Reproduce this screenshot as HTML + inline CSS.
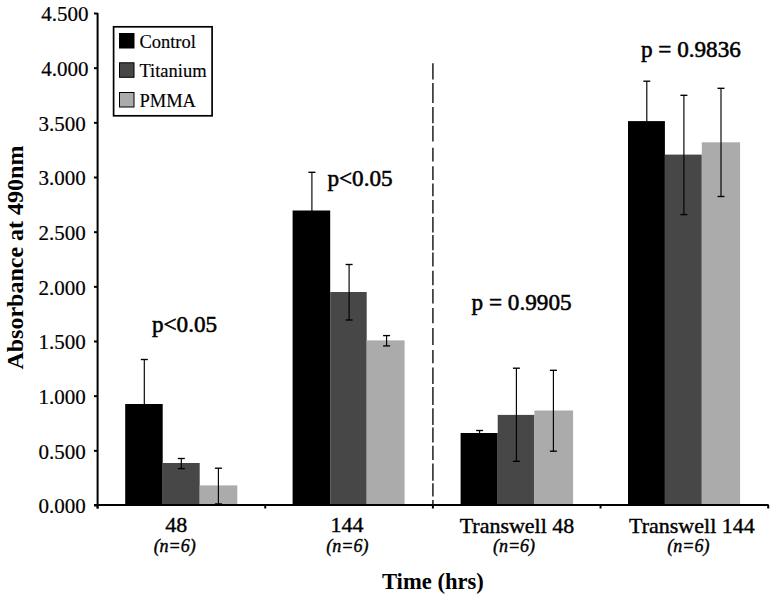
<!DOCTYPE html>
<html><head><meta charset="utf-8"><style>
html,body{margin:0;padding:0;background:#fff;}
body{width:776px;height:601px;overflow:hidden;position:relative;}
svg{position:absolute;left:0;top:0;}
text{font-family:"Liberation Serif",serif;fill:#000;stroke:#000;stroke-width:0.4px;}
.yt,.ttl{stroke-width:0px;}
.yl{stroke-width:0.2px;}
.yl{font-size:21px;}
.cat{font-size:22px;}
.n{font-size:18px;font-style:italic;}
.pv{font-size:23.2px;stroke-width:0.55px;}
.ttl{font-size:22.6px;font-weight:bold;}
.yt{font-size:24px;font-weight:bold;}
.lg{font-size:18.5px;stroke-width:0.15px;}
</style></head><body>
<svg width="776" height="601" viewBox="0 0 776 601">
<rect x="125.20" y="404.00" width="37.50" height="101.50" fill="#000000"/>
<rect x="162.70" y="463.00" width="37.00" height="42.50" fill="#474747"/>
<rect x="199.70" y="485.40" width="37.60" height="20.10" fill="#ababab"/>
<rect x="292.60" y="210.50" width="37.60" height="295.00" fill="#000000"/>
<rect x="330.20" y="292.00" width="36.50" height="213.50" fill="#474747"/>
<rect x="366.70" y="340.40" width="37.90" height="165.10" fill="#ababab"/>
<rect x="460.60" y="433.00" width="37.10" height="72.50" fill="#000000"/>
<rect x="497.70" y="414.90" width="36.70" height="90.60" fill="#474747"/>
<rect x="534.40" y="410.50" width="38.70" height="95.00" fill="#ababab"/>
<rect x="628.00" y="121.10" width="36.90" height="384.40" fill="#000000"/>
<rect x="664.90" y="154.60" width="36.90" height="350.90" fill="#474747"/>
<rect x="701.80" y="142.30" width="38.30" height="363.20" fill="#ababab"/>
<line x1="144.30" y1="359.50" x2="144.30" y2="448.50" stroke="#000" stroke-width="1.15"/>
<line x1="140.80" y1="359.50" x2="147.80" y2="359.50" stroke="#000" stroke-width="1.35"/>
<line x1="140.80" y1="448.50" x2="147.80" y2="448.50" stroke="#000" stroke-width="1.35"/>
<line x1="181.30" y1="458.50" x2="181.30" y2="468.60" stroke="#000" stroke-width="1.15"/>
<line x1="177.80" y1="458.50" x2="184.80" y2="458.50" stroke="#000" stroke-width="1.35"/>
<line x1="177.80" y1="468.60" x2="184.80" y2="468.60" stroke="#000" stroke-width="1.35"/>
<line x1="218.40" y1="468.20" x2="218.40" y2="503.90" stroke="#000" stroke-width="1.15"/>
<line x1="214.90" y1="468.20" x2="221.90" y2="468.20" stroke="#000" stroke-width="1.35"/>
<line x1="214.90" y1="503.90" x2="221.90" y2="503.90" stroke="#000" stroke-width="1.35"/>
<line x1="311.90" y1="172.30" x2="311.90" y2="248.70" stroke="#000" stroke-width="1.15"/>
<line x1="308.40" y1="172.30" x2="315.40" y2="172.30" stroke="#000" stroke-width="1.35"/>
<line x1="308.40" y1="248.70" x2="315.40" y2="248.70" stroke="#000" stroke-width="1.35"/>
<line x1="349.10" y1="264.50" x2="349.10" y2="320.00" stroke="#000" stroke-width="1.15"/>
<line x1="345.60" y1="264.50" x2="352.60" y2="264.50" stroke="#000" stroke-width="1.35"/>
<line x1="345.60" y1="320.00" x2="352.60" y2="320.00" stroke="#000" stroke-width="1.35"/>
<line x1="386.60" y1="335.60" x2="386.60" y2="345.90" stroke="#000" stroke-width="1.15"/>
<line x1="383.10" y1="335.60" x2="390.10" y2="335.60" stroke="#000" stroke-width="1.35"/>
<line x1="383.10" y1="345.90" x2="390.10" y2="345.90" stroke="#000" stroke-width="1.35"/>
<line x1="479.60" y1="430.50" x2="479.60" y2="435.50" stroke="#000" stroke-width="1.15"/>
<line x1="476.10" y1="430.50" x2="483.10" y2="430.50" stroke="#000" stroke-width="1.35"/>
<line x1="476.10" y1="435.50" x2="483.10" y2="435.50" stroke="#000" stroke-width="1.35"/>
<line x1="516.40" y1="368.20" x2="516.40" y2="461.30" stroke="#000" stroke-width="1.15"/>
<line x1="512.90" y1="368.20" x2="519.90" y2="368.20" stroke="#000" stroke-width="1.35"/>
<line x1="512.90" y1="461.30" x2="519.90" y2="461.30" stroke="#000" stroke-width="1.35"/>
<line x1="553.40" y1="370.30" x2="553.40" y2="451.20" stroke="#000" stroke-width="1.15"/>
<line x1="549.90" y1="370.30" x2="556.90" y2="370.30" stroke="#000" stroke-width="1.35"/>
<line x1="549.90" y1="451.20" x2="556.90" y2="451.20" stroke="#000" stroke-width="1.35"/>
<line x1="646.80" y1="81.20" x2="646.80" y2="161.00" stroke="#000" stroke-width="1.15"/>
<line x1="643.30" y1="81.20" x2="650.30" y2="81.20" stroke="#000" stroke-width="1.35"/>
<line x1="643.30" y1="161.00" x2="650.30" y2="161.00" stroke="#000" stroke-width="1.35"/>
<line x1="683.90" y1="95.30" x2="683.90" y2="214.60" stroke="#000" stroke-width="1.15"/>
<line x1="680.40" y1="95.30" x2="687.40" y2="95.30" stroke="#000" stroke-width="1.35"/>
<line x1="680.40" y1="214.60" x2="687.40" y2="214.60" stroke="#000" stroke-width="1.35"/>
<line x1="721.00" y1="88.30" x2="721.00" y2="196.50" stroke="#000" stroke-width="1.15"/>
<line x1="717.50" y1="88.30" x2="724.50" y2="88.30" stroke="#000" stroke-width="1.35"/>
<line x1="717.50" y1="196.50" x2="724.50" y2="196.50" stroke="#000" stroke-width="1.35"/>
<path d="M432.9 63.3V79.6 M432.9 83.0V102.9 M432.9 106.9V123.2 M432.9 125.7V141.5 M432.9 147.8V161.6 M432.9 166.3V179.9 M432.9 183.6V196.2 M432.9 199.9V213.6 M432.9 216.9V232.4 M432.9 234.9V250.3 M432.9 252.5V266.6 M432.9 270.8V285.2 M432.9 289.1V303.6 M432.9 307.9V323.2 M432.9 328.0V345.0 M432.9 350.0V363.3 M432.9 367.4V384.1 M432.9 386.9V404.9 M432.9 408.2V425.0 M432.9 427.5V442.5 M432.9 445.8V459.9 M432.9 463.6V480.7 M432.9 483.2V496.5 M432.9 499.9V506" stroke="#3a3a3a" stroke-width="1.7" fill="none"/>
<line x1="97.6" y1="13" x2="97.6" y2="508.5" stroke="#000" stroke-width="2"/>
<line x1="94" y1="505" x2="768.6" y2="505" stroke="#000" stroke-width="2"/>
<line x1="94" y1="505.50" x2="97.6" y2="505.50" stroke="#000" stroke-width="2"/>
<line x1="94" y1="450.83" x2="97.6" y2="450.83" stroke="#000" stroke-width="2"/>
<line x1="94" y1="396.17" x2="97.6" y2="396.17" stroke="#000" stroke-width="2"/>
<line x1="94" y1="341.50" x2="97.6" y2="341.50" stroke="#000" stroke-width="2"/>
<line x1="94" y1="286.84" x2="97.6" y2="286.84" stroke="#000" stroke-width="2"/>
<line x1="94" y1="232.18" x2="97.6" y2="232.18" stroke="#000" stroke-width="2"/>
<line x1="94" y1="177.51" x2="97.6" y2="177.51" stroke="#000" stroke-width="2"/>
<line x1="94" y1="122.85" x2="97.6" y2="122.85" stroke="#000" stroke-width="2"/>
<line x1="94" y1="68.18" x2="97.6" y2="68.18" stroke="#000" stroke-width="2"/>
<line x1="94" y1="13.51" x2="97.6" y2="13.51" stroke="#000" stroke-width="2"/>
<line x1="97.60" y1="505" x2="97.60" y2="508.5" stroke="#000" stroke-width="2"/>
<line x1="265.25" y1="505" x2="265.25" y2="508.5" stroke="#000" stroke-width="2"/>
<line x1="432.90" y1="505" x2="432.90" y2="508.5" stroke="#000" stroke-width="2"/>
<line x1="600.55" y1="505" x2="600.55" y2="508.5" stroke="#000" stroke-width="2"/>
<line x1="768.20" y1="505" x2="768.20" y2="508.5" stroke="#000" stroke-width="2"/>
<text x="85.8" y="513.30" text-anchor="end" class="yl">0.000</text>
<text x="85.8" y="458.63" text-anchor="end" class="yl">0.500</text>
<text x="85.8" y="403.97" text-anchor="end" class="yl">1.000</text>
<text x="85.8" y="349.31" text-anchor="end" class="yl">1.500</text>
<text x="85.8" y="294.64" text-anchor="end" class="yl">2.000</text>
<text x="85.8" y="239.98" text-anchor="end" class="yl">2.500</text>
<text x="85.8" y="185.31" text-anchor="end" class="yl">3.000</text>
<text x="85.8" y="130.65" text-anchor="end" class="yl">3.500</text>
<text x="88.4" y="75.98" text-anchor="end" class="yl">4.000</text>
<text x="88.4" y="21.31" text-anchor="end" class="yl">4.500</text>
<text x="176.3" y="532.3" text-anchor="middle" class="cat">48</text>
<text x="347" y="532.3" text-anchor="middle" class="cat">144</text>
<text x="517" y="533" text-anchor="middle" class="cat">Transwell 48</text>
<text x="691.9" y="533" text-anchor="middle" class="cat">Transwell 144</text>
<text x="174.7" y="552.3" text-anchor="middle" class="n">(n=6)</text>
<text x="347.4" y="552.3" text-anchor="middle" class="n">(n=6)</text>
<text x="514" y="552.3" text-anchor="middle" class="n">(n=6)</text>
<text x="688.4" y="552.3" text-anchor="middle" class="n">(n=6)</text>
<text x="432.9" y="588.7" text-anchor="middle" class="ttl">Time (hrs)</text>
<text transform="translate(23.4,257.6) rotate(-90)" text-anchor="middle" class="yt">Absorbance at 490nm</text>
<text x="184.5" y="332.2" text-anchor="middle" class="pv">p&lt;0.05</text>
<text x="360" y="186.3" text-anchor="middle" class="pv">p&lt;0.05</text>
<text x="521.6" y="309.5" text-anchor="middle" class="pv">p = 0.9905</text>
<text x="690.9" y="56.6" text-anchor="middle" class="pv">p = 0.9836</text>
<rect x="113.6" y="26.8" width="98.5" height="89" fill="#fff" stroke="#000" stroke-width="1.7"/>
<rect x="119.5" y="33.5" width="14.5" height="14.5" fill="#000" stroke="#000" stroke-width="1"/>
<rect x="119.5" y="62.8" width="14.5" height="14.5" fill="#474747" stroke="#000" stroke-width="1"/>
<rect x="119.5" y="92.5" width="14.5" height="14.5" fill="#ababab" stroke="#000" stroke-width="1"/>
<text x="139.4" y="47.6" class="lg">Control</text>
<text x="139.4" y="77" class="lg">Titanium</text>
<text x="139.4" y="106.6" class="lg">PMMA</text>
</svg>
</body></html>
